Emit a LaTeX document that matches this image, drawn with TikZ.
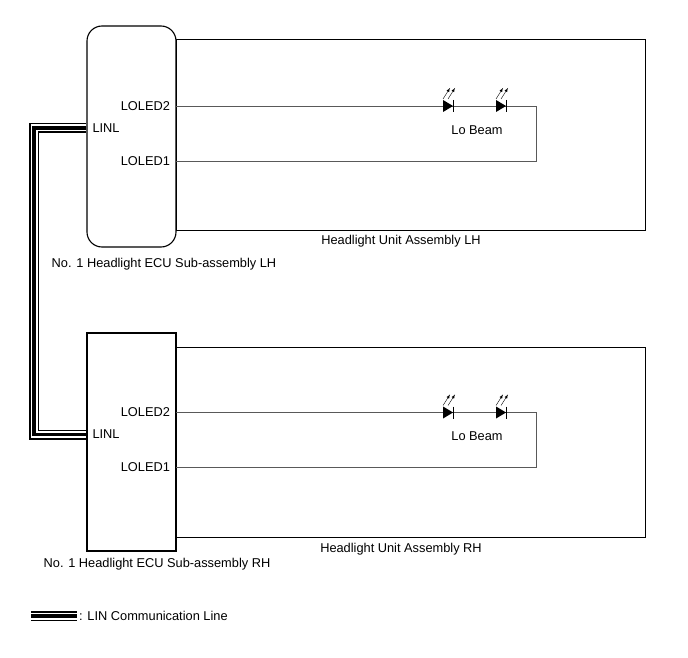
\documentclass[tikz,border=0pt]{standalone}
\usepackage{fontspec}
\setmainfont{Liberation Sans}
\usetikzlibrary{positioning}
\begin{document}
\begin{tikzpicture}[x=1pt,y=-1pt,font=\fontsize{12.8}{14}\selectfont,
  ecu/.style={draw,line width=1.1pt,minimum width=89,inner sep=0},
  unit/.style={draw,line width=1pt,minimum width=469,inner sep=0},
  wire/.style={draw=gray!70!black,line width=0.8pt},
  lin/.style={line width=10pt,line cap=butt}]
\useasboundingbox (0,0) rectangle (688,658);
% ECU boxes and headlight units
\node[ecu,rounded corners=15,minimum height=221] (ecuLH) at (131.5,136.5) {};
\node[unit,minimum height=190] (unitLH) at (410.5,135) {};
\node[ecu,minimum height=218] (ecuRH) at (131.5,442) {};
\node[unit,minimum height=190] (unitRH) at (410.5,442) {};
\node (nameLH) at (401,241) {Headlight Unit Assembly LH};
\node (nameRH) at (401,549) {Headlight Unit Assembly RH};
\node (ecunameLH) at (164,264) {No. 1 Headlight ECU Sub-assembly LH};
\node (ecunameRH) at (157,564) {No. 1 Headlight ECU Sub-assembly RH};
% pins and lamp circuit
\foreach \s/\d in {LH/0,RH/306.5} {
  \node[anchor = east] (pinA\s) at (173.5,106+\d) {LOLED2};
  \node[anchor = east] (pinB\s) at (173.5,161+\d) {LOLED1};
  \node[anchor = west] (pinL\s) at (89,128+\d) {LINL};
  \coordinate (lo2\s) at (176,106+\d);
  \coordinate (lo1\s) at (176,161+\d);
  \coordinate (turn\s) at (536,106+\d);
  \draw[wire] (lo2\s) -- (turn\s) |- (lo1\s);
  \node (beam\s) at (477,130+\d) {Lo Beam};
  \foreach \x in {448,501} {
    \fill (\x-5,100+\d) -- (\x-5,112+\d) -- (\x+5,106+\d) -- cycle;
    \draw[thick] (\x+5,100+\d) -- (\x+5,112+\d);
    \draw[->,>=latex,thin] (\x-5,99+\d) -- (\x+2,88+\d);
    \draw[->,>=latex,thin] (\x,99+\d) -- (\x+7,88+\d);
  }
}
% LIN communication line
\coordinate (linLH) at (ecuLH.west |- pinLLH);
\coordinate (linRH) at (ecuRH.west |- pinLRH);
\draw[lin] (linLH) -- (34,128) -- (34,434.5) -- (linRH);
\draw[lin,white,line width=7pt] (linLH) -- (34,128) -- (34,434.5) -- (linRH);
\draw[lin,line width=3.5pt] (linLH) -- (34,128) -- (34,434.5) -- (linRH);
\coordinate (keyA) at (31,616);
\coordinate (keyB) at (77,616);
\draw[lin] (keyA) -- (keyB);
\draw[lin,white,line width=7pt] (keyA) -- (keyB);
\draw[lin,line width=3.5pt] (keyA) -- (keyB);
\node[anchor = west,inner sep=2] (key) at (keyB) {: LIN Communication Line};
\end{tikzpicture}
\end{document}
